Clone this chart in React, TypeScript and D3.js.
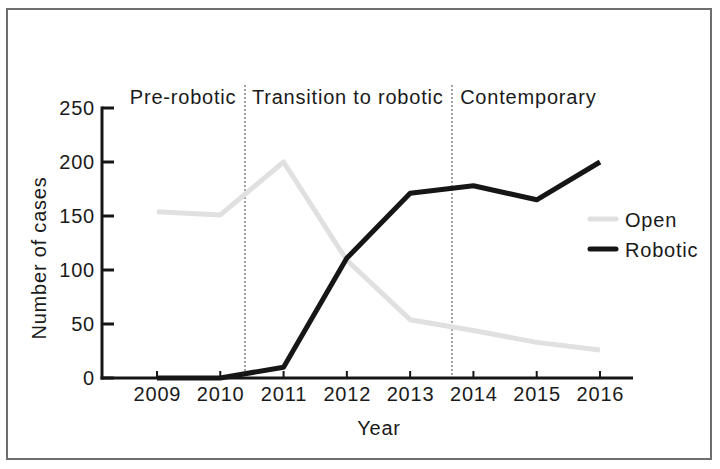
import React from "react";
import * as d3 from "d3";

const years = [2009, 2010, 2011, 2012, 2013, 2014, 2015, 2016];
const openCases = [154, 151, 200, 109, 54, 44, 33, 26];
const roboticCases = [0, 0, 10, 111, 171, 178, 165, 200];
const yTicks = [0, 50, 100, 150, 200, 250];
const dividers = [2010.39, 2013.66];
const phaseLabels = ["Pre-robotic", "Transition to robotic", "Contemporary"];
const phaseStart = [2008.57, 2010.5, 2013.79];

export default function App() {
  const W = 720, H = 469;
  const x = d3.scaleLinear().domain([2009, 2016]).range([157, 600]);
  const y = d3.scaleLinear().domain([0, 250]).range([378, 108]);
  const axisLeft = 102, axisRight = 633;
  const font = "'Liberation Sans', Arial, Helvetica, sans-serif";
  const line = d3
    .line<number>()
    .x((_, i) => x(years[i]))
    .y((d) => y(d));
  const txt = "#1a1a1a";
  const fs = 20;
  const ls = 0.8;
  return (
    <svg width={W} height={H} style={{ position: "absolute", left: 0, top: 0 }} fontFamily={font} letterSpacing={ls}>
      <rect x={0} y={0} width={W} height={H} fill="#fff" />
      <rect x={7} y={9} width={704} height={450} fill="none" stroke="#6e6e6e" strokeWidth={2} />
      {dividers.map((d, i) => (
        <line key={i} x1={x(d)} x2={x(d)} y1={85} y2={378} stroke="#a0a0a0" strokeWidth={2} strokeDasharray="2,2" />
      ))}
      {phaseLabels.map((t, i) => (
        <text key={t} x={x(phaseStart[i])} y={104} fontSize={fs} fill={txt}>
          {t}
        </text>
      ))}
      <path d={line(openCases) || ""} fill="none" stroke="#e0e0e0" strokeWidth={5} strokeLinejoin="round" />
      <path d={line(roboticCases) || ""} fill="none" stroke="#161616" strokeWidth={5} strokeLinejoin="round" />
      <line x1={axisLeft} x2={axisLeft} y1={y(250) - 1.5} y2={y(0) + 1.5} stroke="#161616" strokeWidth={3} />
      <line x1={axisLeft - 1.5} x2={axisRight} y1={y(0)} y2={y(0)} stroke="#161616" strokeWidth={3} />
      {yTicks.map((t) => (
        <g key={t}>
          <line x1={axisLeft} x2={axisLeft + 12} y1={y(t)} y2={y(t)} stroke="#161616" strokeWidth={3} />
          <text x={95} y={y(t) + 7} textAnchor="end" fontSize={fs} fill={txt}>
            {t}
          </text>
        </g>
      ))}
      {years.map((yr) => (
        <g key={yr}>
          <line x1={x(yr)} x2={x(yr)} y1={y(0)} y2={y(0) - 7} stroke="#161616" strokeWidth={2} />
          <text x={x(yr) + ls / 2} y={401} textAnchor="middle" fontSize={fs} fill={txt}>
            {yr}
          </text>
        </g>
      ))}
      <text x={379} y={435} textAnchor="middle" fontSize={fs} fill={txt}>
        Year
      </text>
      <text transform={`translate(46,258) rotate(-90)`} textAnchor="middle" fontSize={fs} fill={txt}>
        Number of cases
      </text>
      <line x1={590} x2={616} y1={219} y2={219} stroke="#e0e0e0" strokeWidth={5} strokeLinecap="round" />
      <text x={625} y={227} fontSize={fs} fill={txt}>Open</text>
      <line x1={590} x2={616} y1={249} y2={249} stroke="#161616" strokeWidth={5} strokeLinecap="round" />
      <text x={625} y={257} fontSize={fs} fill={txt}>Robotic</text>
    </svg>
  );
}
